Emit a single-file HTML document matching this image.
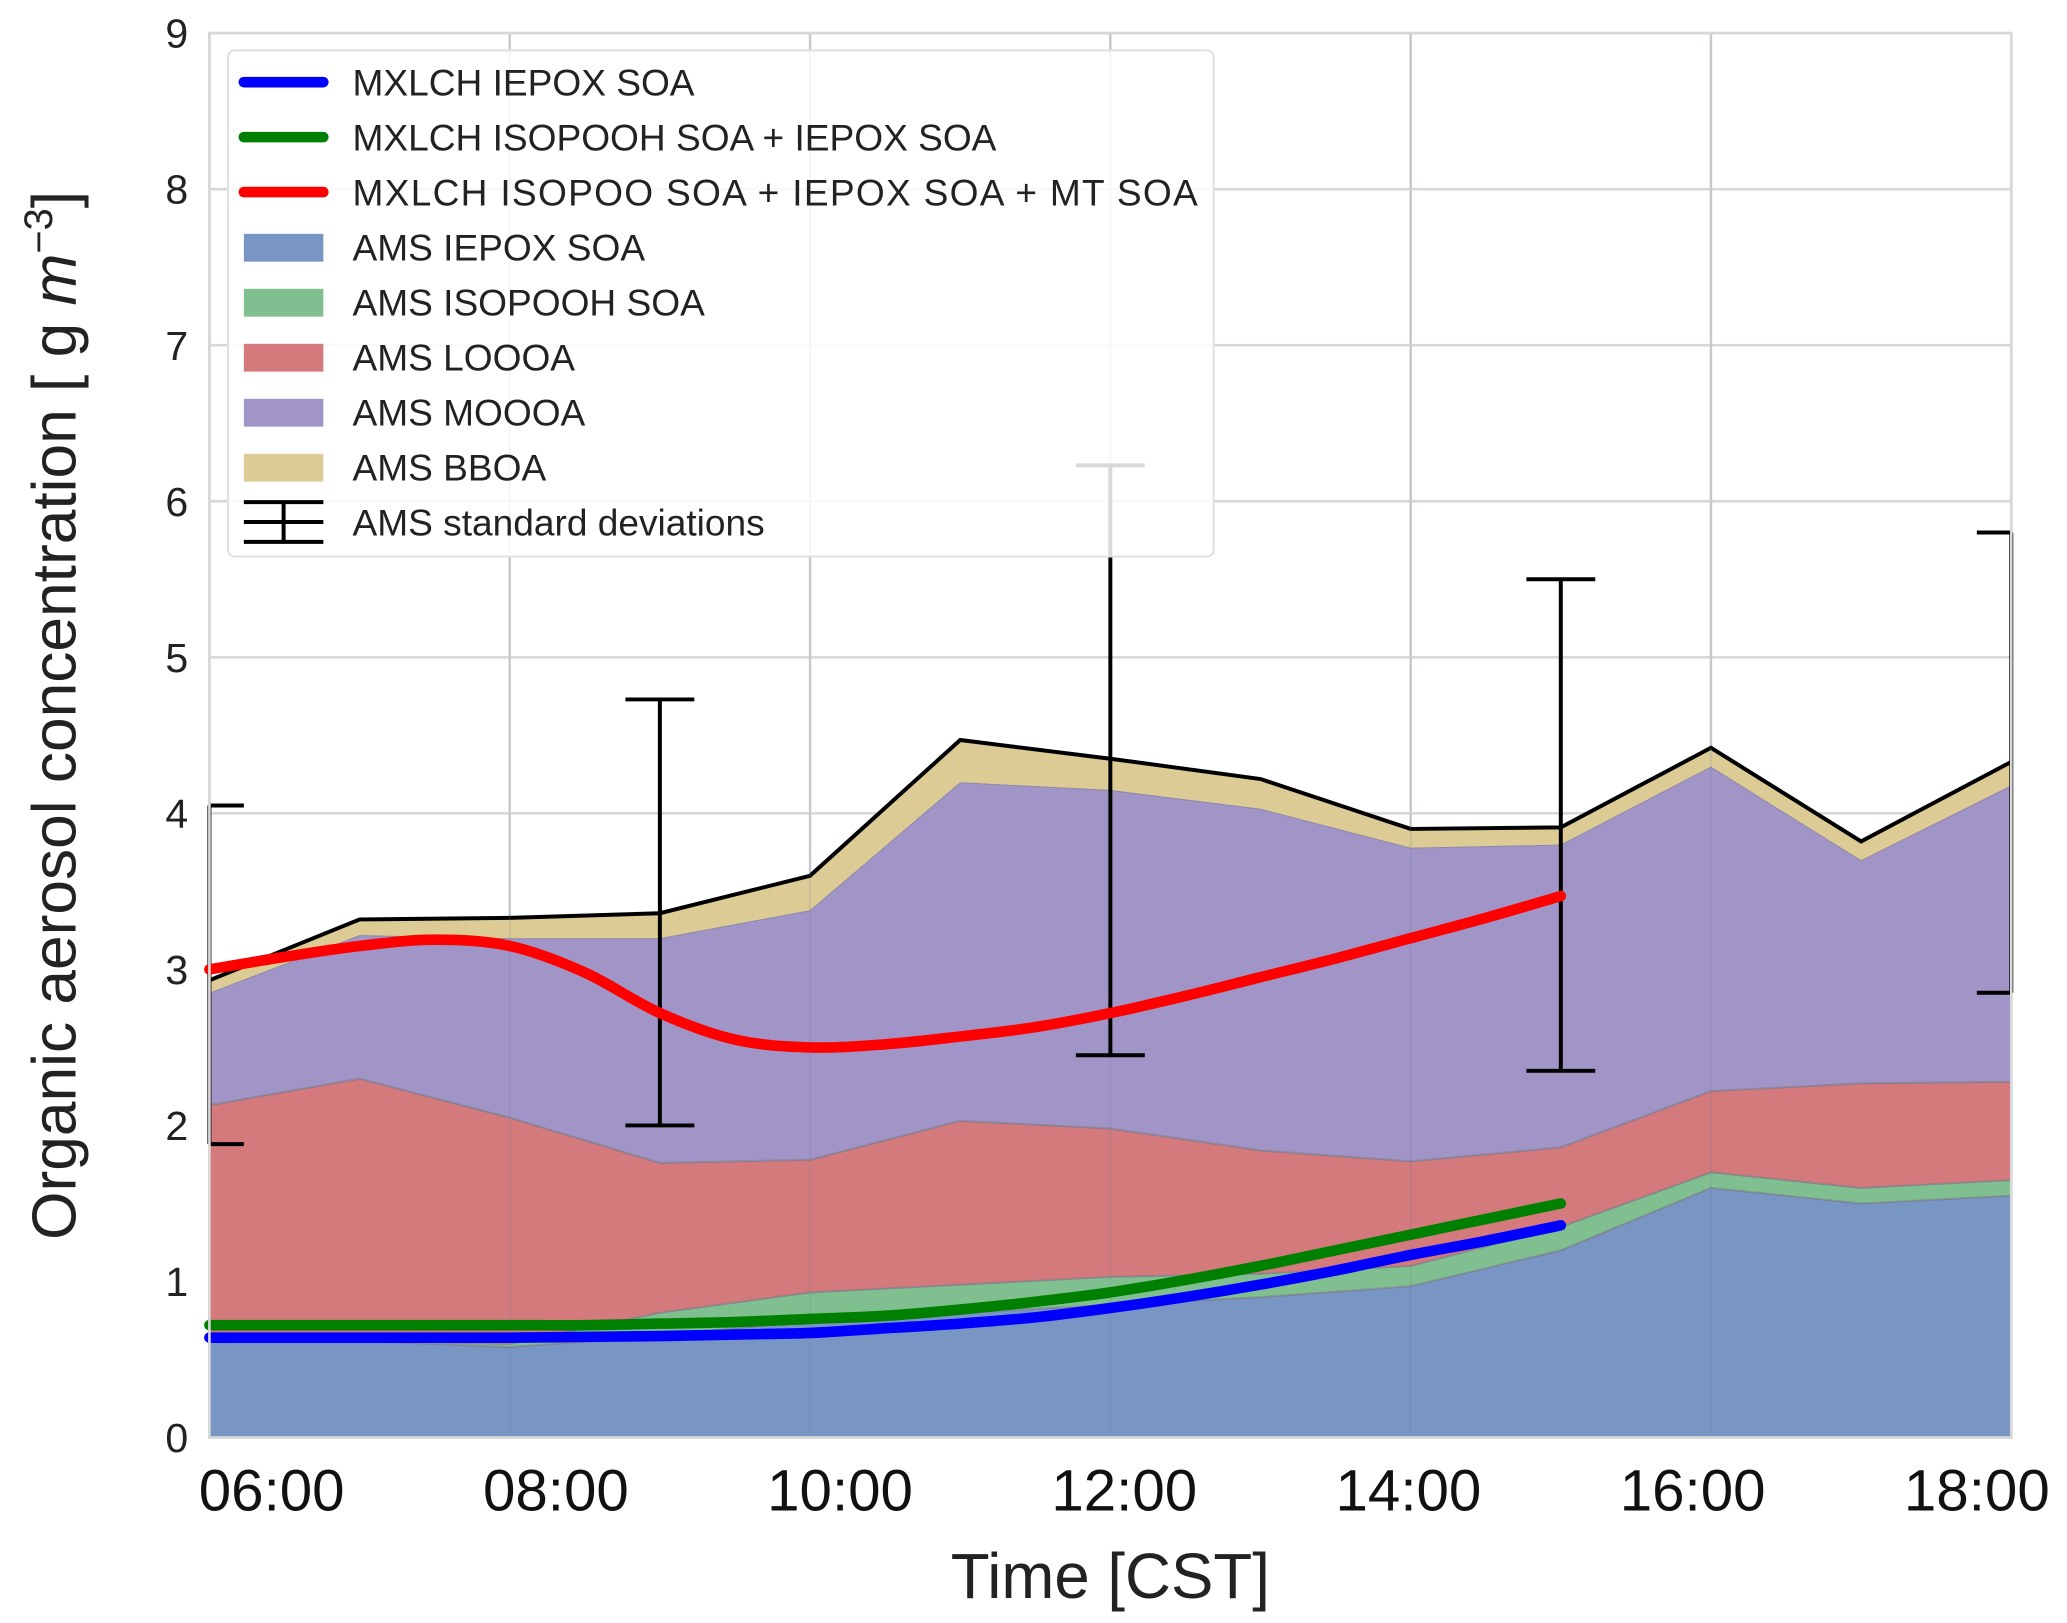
<!DOCTYPE html>
<html><head><meta charset="utf-8"><style>
html,body{margin:0;padding:0;background:#fff;}
svg{display:block;font-family:"Liberation Sans",Arial,sans-serif;}
</style></head><body>
<svg id="chart" width="2067" height="1623" viewBox="0 0 1560 1225" xmlns="http://www.w3.org/2000/svg">
<g id="grid"></g>
<g id="areas"></g>
<g id="errs"></g>
<g id="lines"></g>
<g id="axes"></g>
<g id="legend"></g>
<text x="838" y="1206" font-size="48" text-anchor="middle" fill="#222">Time [CST]</text>
<text transform="translate(57,540) rotate(-90)" font-size="47" text-anchor="middle" fill="#222">Organic aerosol concentration [  g <tspan font-style="italic">m</tspan><tspan font-size="30" dy="-18">−3</tspan><tspan dy="18">]</tspan></text>
</svg>
<script>
const hours=[6,7,8,9,10,11,12,13,14,15,16,17,18];
const iepox=[0.62,0.62,0.58,0.65,0.75,0.8,0.85,0.9,0.97,1.2,1.6,1.5,1.55];
const isopooh=[0,0,0.02,0.15,0.18,0.18,0.18,0.15,0.13,0.15,0.1,0.1,0.1];
const loooa=[1.51,1.68,1.45,0.96,0.85,1.05,0.95,0.79,0.67,0.51,0.52,0.67,0.63];
const moooa=[0.72,0.92,1.15,1.44,1.6,2.17,2.17,2.19,2.01,1.94,2.08,1.43,1.9];
const bboa=[0.08,0.1,0.13,0.16,0.22,0.27,0.2,0.19,0.12,0.11,0.12,0.12,0.15];
const errHours=[6,9,12,15,18];
const errLow=[1.88,2.0,2.45,2.35,2.85];
const errHigh=[4.05,4.73,6.23,5.5,5.8];
const modelHours=[6,6.5,7,7.5,8,8.5,9,9.5,10,10.5,11,11.5,12,12.5,13,13.5,14,14.5,15];
const redVals=[3.0,3.08,3.15,3.19,3.15,2.98,2.72,2.55,2.5,2.52,2.57,2.63,2.72,2.83,2.95,3.07,3.2,3.33,3.47];
const greenVals=[0.72,0.72,0.72,0.72,0.72,0.72,0.73,0.74,0.76,0.78,0.82,0.87,0.93,1.01,1.1,1.2,1.3,1.4,1.5];
const blueVals=[0.64,0.64,0.64,0.64,0.64,0.645,0.65,0.66,0.67,0.7,0.73,0.77,0.83,0.9,0.98,1.07,1.17,1.26,1.36];
const yTicks=[0,1,2,3,4,5,6,7,8,9];
const xGridHours=[6,8,10,12,14,16,18];
const xTickLabels=["06:00","08:00","10:00","12:00","14:00","16:00","18:00"];

const NS="http://www.w3.org/2000/svg";
const L=158,R=1518,T=25,B=1085;
const X=h=>L+(h-6)*(R-L)/12;
const Y=v=>B-v*(B-T)/9;
function mk(tag,attrs,parent){const e=document.createElementNS(NS,tag);for(const k in attrs)e.setAttribute(k,attrs[k]);parent.appendChild(e);return e;}
const grid=document.getElementById('grid'),areas=document.getElementById('areas'),errs=document.getElementById('errs'),lines=document.getElementById('lines'),axes=document.getElementById('axes'),legend=document.getElementById('legend');

for(const t of yTicks){
 const g=mk('line',{x1:L,x2:R,y1:Y(t),y2:Y(t),stroke:'#d8d8d8','stroke-width':2},grid);
 
 
 const tx=mk('text',{x:142,y:Y(t)+11,'font-size':31,'text-anchor':'end',fill:'#222'},axes);
 tx.textContent=t;
 
 
}
xGridHours.forEach((h,i)=>{
 const g=mk('line',{x1:X(h),x2:X(h),y1:T,y2:B,stroke:'#d8d8d8','stroke-width':2},grid);
 
 
});
xTickLabels.forEach((lab,i)=>{
 const tx=mk('text',{x:205+i*214.5,y:1140,'font-size':44,'text-anchor':'middle',fill:'#111'},axes);
 tx.textContent=lab;
 
 
});
const fr=mk('rect',{x:L,y:T,width:R-L,height:B-T,fill:'none',stroke:'#d8d8d8','stroke-width':2},axes);



const comps=[[iepox,'#7995c4','area-iepox-soa'],[isopooh,'#80c090','area-isopooh-soa'],[loooa,'#d57a7c','area-loooa'],[moooa,'#a194c6','area-moooa'],[bboa,'#dccb94','area-bboa']];
let base=hours.map(()=>0);
comps.forEach(([arr,col,name],ci)=>{
 const top=base.map((b,i)=>b+arr[i]);
 let d='M'+hours.map((h,i)=>X(h)+','+Y(top[i])).join('L');
 for(let i=hours.length-1;i>=0;i--)d+='L'+X(hours[i])+','+Y(base[i]);
 const p=mk('path',{d:d+'Z',fill:col,stroke:ci==4?'none':'#7a7a8a','stroke-width':1.5,'stroke-opacity':0.5},areas);
 
 
 base=top;
});
const tl=mk('polyline',{points:hours.map((h,i)=>X(h)+','+Y(base[i])).join(' '),fill:'none',stroke:'#000','stroke-width':3},areas);


for(const h of xGridHours.slice(1,6)){const g=mk('line',{x1:X(h),x2:X(h),y1:T,y2:B,stroke:'#6a7aa0','stroke-width':1,'stroke-opacity':0.25},areas);}

errHours.forEach((h,i)=>{
 const x=X(h);const g=mk('g',{},errs);
 
 
 mk('line',{x1:x,x2:x,y1:Y(errLow[i]),y2:Y(errHigh[i]),stroke:'#000','stroke-width':3},g);
 const cl=Math.max(L,x-26),cr=Math.min(R,x+26);
 mk('line',{x1:cl,x2:cr,y1:Y(errLow[i]),y2:Y(errLow[i]),stroke:'#000','stroke-width':3},g);
 mk('line',{x1:cl,x2:cr,y1:Y(errHigh[i]),y2:Y(errHigh[i]),stroke:'#000','stroke-width':3},g);
});

function smooth(xs,ys){let pts=xs.map((h,i)=>[X(h),Y(ys[i])]);let d='M'+pts[0];for(let i=0;i<pts.length-1;i++){const p0=pts[Math.max(0,i-1)],p1=pts[i],p2=pts[i+1],p3=pts[Math.min(pts.length-1,i+2)];d+='C'+(p1[0]+(p2[0]-p0[0])/6)+','+(p1[1]+(p2[1]-p0[1])/6)+' '+(p2[0]-(p3[0]-p1[0])/6)+','+(p2[1]-(p3[1]-p1[1])/6)+' '+p2;}return d;}
[[greenVals,'#008000','line-isopooh-iepox'],[blueVals,'#0000ff','line-iepox'],[redVals,'#ff0000','line-isopoo-iepox-mt']].forEach(([v,c,n])=>{
 const p=mk('path',{d:smooth(modelHours,v),fill:'none',stroke:c,'stroke-width':8,'stroke-linecap':'round'},lines);
 
 
});

const lb=mk('rect',{x:172,y:38,width:744,height:382,rx:5,fill:'#fff','fill-opacity':0.85,stroke:'#e0e0e0','stroke-width':1.5},legend);


const items=[['line','#0000ff','MXLCH IEPOX SOA'],['line','#008000','MXLCH ISOPOOH SOA + IEPOX SOA'],['line','#ff0000','MXLCH ISOPOO SOA + IEPOX SOA + MT SOA'],['patch','#7995c4','AMS IEPOX SOA'],['patch','#80c090','AMS ISOPOOH SOA'],['patch','#d57a7c','AMS LOOOA'],['patch','#a194c6','AMS MOOOA'],['patch','#dccb94','AMS BBOA'],['err','#000','AMS standard deviations']];
items.forEach(([k,c,t],i)=>{
 const y=62+i*41.5;const g=mk('g',{},legend);
 
 
 if(k=='line')mk('line',{x1:184,x2:244,y1:y,y2:y,stroke:c,'stroke-width':8,'stroke-linecap':'round'},g);
 else if(k=='patch')mk('rect',{x:184,y:y-10,width:60,height:21,fill:c},g);
 else{mk('line',{x1:184,x2:244,y1:y,y2:y,stroke:'#000','stroke-width':3},g);mk('line',{x1:214,x2:214,y1:y-15,y2:y+15,stroke:'#000','stroke-width':3},g);mk('line',{x1:184,x2:244,y1:y-15,y2:y-15,stroke:'#000','stroke-width':3},g);mk('line',{x1:184,x2:244,y1:y+15,y2:y+15,stroke:'#000','stroke-width':3},g);}
 const tx=mk('text',{x:266,y:y+10,'font-size':28,fill:'#222',textLength:(t.length>30?638:null)},g);if(t.length<=30)tx.removeAttribute('textLength');tx.textContent=t;
});
</script>
</body></html>
